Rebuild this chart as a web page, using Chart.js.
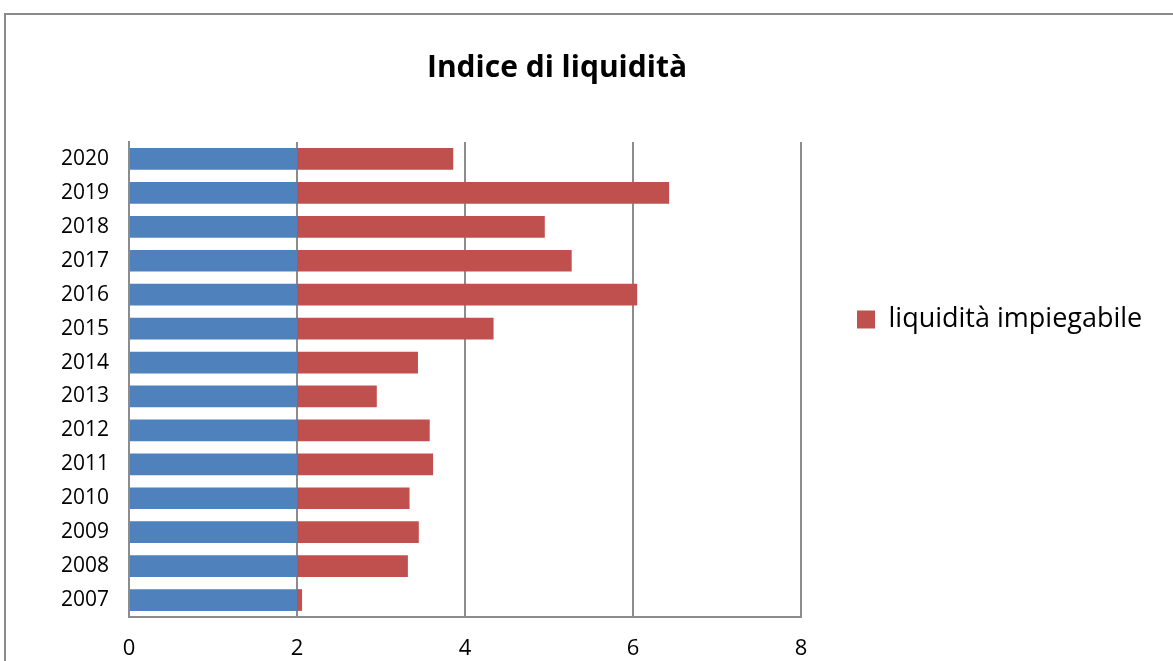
<!DOCTYPE html>
<html>
<head>
<meta charset="utf-8">
<script src="https://cdn.jsdelivr.net/npm/chart.js@4"></script>
<style>
  html, body { margin: 0; padding: 0; background: #fff; overflow: hidden; }
  #frame {
    position: absolute; left: 4px; top: 13px;
    width: 1200px; height: 700px;
    border: 2px solid #8a8a8a; box-sizing: border-box;
  }
  #wrap { position: absolute; left: 0; top: 0; width: 1173px; height: 661px; }
</style>
</head>
<body>
<div id="frame"></div>
<div id="wrap"><canvas id="chart" width="1173" height="661"></canvas></div>
<script>
// Indice di liquidità, one bar per year (bottom to top: 2007 -> 2020)
const years = ['2007', '2008', '2009', '2010', '2011', '2012', '2013',
               '2014', '2015', '2016', '2017', '2018', '2019', '2020'];

// blue part of each bar (no legend entry)
const baseValues = [2, 2, 2, 2, 2, 2, 2, 2, 2, 2, 2, 2, 2, 2];

// red part: liquidità impiegabile
const impiegabile = [0.06, 1.32, 1.45, 1.34, 1.62, 1.58, 0.95,
                     1.44, 2.34, 4.05, 3.27, 2.95, 4.43, 1.86];

const xTicks = [0, 2, 4, 6, 8];

const FONT = "'Open Sans', 'DejaVu Sans', sans-serif";

// Excel puts the title over the whole chart and the legend a bit higher,
// move the two boxes after Chart.js has laid them out
const placeBoxes = {
  id: 'placeBoxes',
  afterLayout(chart) {
    const t = chart.titleBlock;
    t.left = 0;
    t.right = 1114;
    t.width = t.right - t.left;

    const lg = chart.legend;
    lg.left = chart.chartArea.right + 46;
    lg.right = 1173;
    lg.width = lg.right - lg.left;
    lg.top -= 36;
    lg.bottom -= 36;
  }
};

const ctx = document.getElementById('chart').getContext('2d');
new Chart(ctx, {
  type: 'bar',
  data: {
    labels: years,
    datasets: [
      {
        label: '',
        data: baseValues,
        backgroundColor: '#4f81bd',
        barPercentage: 0.64,
        categoryPercentage: 1
      },
      {
        label: 'liquidità impiegabile',
        data: impiegabile,
        backgroundColor: '#c0504d',
        barPercentage: 0.64,
        categoryPercentage: 1
      }
    ]
  },
  options: {
    indexAxis: 'y',
    responsive: false,
    animation: false,
    layout: { padding: { top: 50, left: 0, right: 105, bottom: 0 } },
    plugins: {
      title: {
        display: true,
        text: 'Indice di liquidità',
        color: '#000',
        font: { family: FONT, size: 30, weight: 'bold' },
        padding: { top: 0, bottom: 56 }
      },
      legend: {
        position: 'right',
        maxWidth: 267,
        labels: {
          filter: item => item.text !== '',
          color: '#000',
          font: { family: FONT, size: 27 },
          boxWidth: 18,
          boxHeight: 18,
          padding: 10
        }
      },
      tooltip: { enabled: false }
    },
    scales: {
      x: {
        stacked: true,
        min: 0,
        max: 8,
        afterBuildTicks: axis => { axis.ticks = xTicks.map(v => ({ value: v })); },
        afterFit: axis => { axis.height = 44; },
        grid: { color: '#8c8c8c', lineWidth: 2, drawTicks: false },
        border: { display: true, color: '#8c8c8c', width: 2 },
        ticks: { color: '#000', font: { family: FONT, size: 22 }, padding: 19 }
      },
      y: {
        stacked: true,
        reverse: true,
        afterFit: axis => { axis.width = 129; },
        grid: { display: false, drawTicks: false },
        border: { display: true, color: '#8c8c8c', width: 2 },
        ticks: { color: '#000', font: { family: FONT, size: 21 }, padding: 20 }
      }
    }
  },
  plugins: [placeBoxes]
});
</script>
</body>
</html>
